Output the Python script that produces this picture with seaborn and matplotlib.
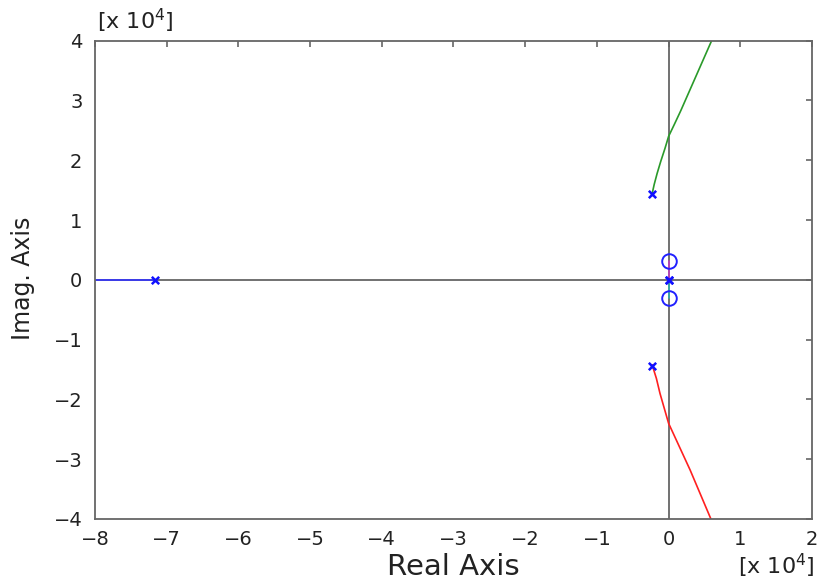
import numpy as np
import pandas as pd
import matplotlib
matplotlib.use("Agg")
import matplotlib.pyplot as plt
import seaborn as sns

# Open-loop poles and zeros (units of 1e4)
pole_re = [-7.16, -0.23, -0.23, 0.0, 0.0]
pole_im = [0.0, 1.44, -1.44, 0.0, 0.0]
zero_re = [0.0, 0.0]
zero_im = [0.31, -0.31]

# Root-locus branches (units of 1e4)
upper_re = [-0.23, -0.20, -0.16, -0.11, -0.05, 0.0, 0.08, 0.17, 0.35, 0.60]
upper_im = [1.44, 1.60, 1.78, 1.98, 2.20, 2.40, 2.60, 2.83, 3.32, 4.0]
lower_re = [-0.23, -0.17, -0.12, -0.06, 0.0, 0.30, 0.59]
lower_im = [-1.42, -1.65, -1.90, -2.15, -2.40, -3.18, -4.0]
real_re = [-7.16, -8.5]
real_im = [0.0, 0.0]
zup_re = [0.0, 0.0]
zup_im = [0.0, 0.31]
zdn_re = [0.0, 0.0]
zdn_im = [0.0, -0.31]

x_ticks = [-8, -7, -6, -5, -4, -3, -2, -1, 0, 1, 2]
y_ticks = [-4, -3, -2, -1, 0, 1, 2, 3, 4]

sns.set_theme(style="white")
plt.rcParams["font.family"] = ["DejaVu Sans"]

fig = plt.figure(figsize=(8.2, 5.84), dpi=100)
ax = fig.add_axes([95 / 820, 1 - 519 / 584, (812 - 95) / 820, (519 - 40.7) / 584])

axis_grey = "#666666"
ax.axhline(0, color=axis_grey, lw=1.3, zorder=1)
ax.axvline(0, color=axis_grey, lw=1.3, zorder=1)

branches = [
    ("real", real_re, real_im, "#3333ff"),
    ("upper", upper_re, upper_im, "#2a9a2a"),
    ("lower", lower_re, lower_im, "#ff2020"),
    ("zup", zup_re, zup_im, "#c040c0"),
    ("zdn", zdn_re, zdn_im, "#30b0b0"),
]
for name, re_, im_, col in branches:
    df = pd.DataFrame({"re": re_, "im": im_})
    sns.lineplot(data=df, x="re", y="im", sort=False, estimator=None,
                 color=col, lw=1.2, ax=ax, zorder=2)

poles = pd.DataFrame({"re": pole_re, "im": pole_im})
sns.scatterplot(data=poles, x="re", y="im", marker="x", s=28, color="#1010ff",
                linewidth=1.8, ax=ax, zorder=4)
ax.plot(zero_re, zero_im, linestyle="none", marker="o", ms=10.5,
        mfc="none", mec="#2020ff", mew=1.4, zorder=4)

ax.set_xlim(-8, 2)
ax.set_ylim(-4, 4)
ax.set_xticks(x_ticks)
ax.set_yticks(y_ticks)
ax.set_xticklabels([f"{t}".replace("-", "\u2212") for t in x_ticks])
ax.set_yticklabels([f"{t}".replace("-", "\u2212") for t in y_ticks])
ax.tick_params(direction="in", length=4, width=1.2, color=axis_grey,
               top=True, right=True, labelsize=14, labelcolor="#222222")
ax.tick_params(axis="x", pad=8)
ax.tick_params(axis="y", pad=9)
for sp in ax.spines.values():
    sp.set_visible(True)
    sp.set_color(axis_grey)
    sp.set_linewidth(1.3)

ax.set_xlabel("")
ax.set_ylabel("")
fig.text(453 / 820, 1 - 567 / 584, "Real Axis", fontsize=21, ha="center",
         va="center", color="#222222")
fig.text(23 / 820, 1 - 278 / 584, "Imag. Axis", fontsize=17, ha="center",
         va="center", rotation=90, color="#222222")
fig.text(97 / 820, 1 - 21 / 584, r"[x 10$^4$]", fontsize=16, ha="left",
         va="center", color="#222222")
fig.text(815 / 820, 1 - 566 / 584, r"[x 10$^4$]", fontsize=16, ha="right",
         va="center", color="#222222")

fig.savefig("out.png", dpi=100)
